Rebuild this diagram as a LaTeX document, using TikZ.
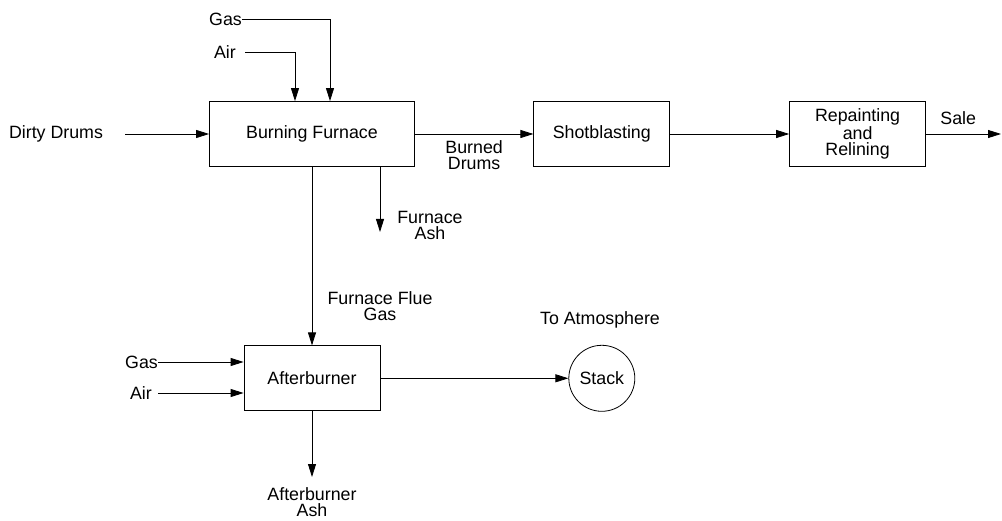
\documentclass[tikz,border=0pt]{standalone}
\usepackage{fontspec}
\setmainfont{Liberation Sans}
\usetikzlibrary{arrows.meta,positioning}

\begin{document}
\begin{tikzpicture}[x=1pt, y=-1pt,
  font=\fontsize{17.8}{16}\selectfont,
  box/.style  = {rectangle, draw, line width=0.8pt,
                 minimum width=136pt, minimum height=65pt,
                 align=center, inner sep=0pt},
  drum/.style = {circle, draw, line width=0.8pt,
                 minimum size=66pt, inner sep=0pt},
  lbl/.style  = {align=center, inner sep=0pt},
  arr/.style  = {-{Triangle[length=13pt,width=8pt]}, line width=0.8pt}
]
\useasboundingbox (0,0) rectangle (1002,521);

% , - Process units , -
\node[box, minimum width=205pt]   (furnace) at (312,134) {Burning Furnace};
\node[box, right=118.5pt of furnace] (shot)    {Shotblasting};
\node[box, right=119pt of shot]      (repaint) {Repainting\\and\\Relining};
\node[box, below=178.5pt of furnace] (after)   {Afterburner};
\node[drum, right=188pt of after]    (stack)   {Stack};

% , - Stream labels , -
\node[lbl] (dirty) at (56,134) {Dirty Drums};
\node[lbl, anchor=east] (gasA) at (242,19)  {Gas};
\node[lbl, anchor=east] (airA) at (236,52)  {Air};
\node[lbl, anchor=east] (gasB) at (158,362) {Gas};
\node[lbl, anchor=east] (airB) at (152,393) {Air};
\node[lbl] (fash)  at (430,225) {Furnace\\Ash};
\node[lbl] (flue)  at (380,306) {Furnace Flue\\Gas};
\node[lbl] (toatm) at (600,320) {To Atmosphere};
\node[lbl] (abash) at (312,502) {Afterburner\\Ash};

% , - Free stream ends , -
\coordinate (fashend)  at (380,232);
\coordinate (abashend) at (312,477);
\coordinate (saleend)  at (1001,134);

% , - Main drum line , -
\draw[arr] ([xshift=22pt]dirty.east) -- (furnace.west);
\draw[arr] (furnace) -- node[below=6.5pt, lbl]{Burned\\Drums} (shot);
\draw[arr] (shot)    -- (repaint);
\draw[arr] (repaint) -- node[above=9pt, lbl, pos=0.43]{Sale} (saleend);

% , - Furnace feeds and outputs , -
\draw[arr] (gasA.east) -| ([xshift=18pt]furnace.north);
\draw[arr] ([xshift=9pt]airA.east) -| ([xshift=-17pt]furnace.north);
\draw[arr] (furnace.south -| fashend) -- (fashend);
\draw[arr] (furnace) -- (after);

% , - Afterburner , -
\draw[arr] (gasB.east) -- (gasB.east -| after.west);
\draw[arr] ([xshift=6pt]airB.east) -- (airB.east -| after.west);
\draw[arr] (after) -- (stack);
\draw[arr] (after) -- (abashend);

\end{tikzpicture}
\end{document}
